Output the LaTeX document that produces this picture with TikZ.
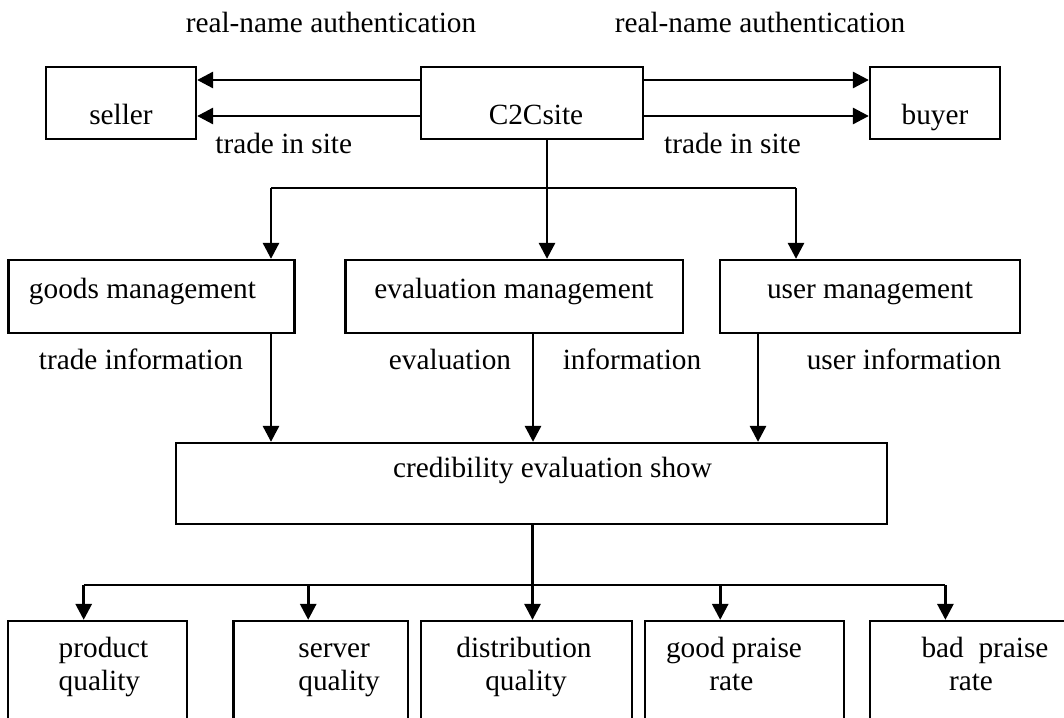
\documentclass[tikz,border=0pt]{standalone}
\usepackage{fontspec}
\setmainfont{Liberation Serif}
\usetikzlibrary{arrows.meta}
\begin{document}
\begin{tikzpicture}[x=1pt,y=-1pt,
  every node/.style={font=\fontsize{29.3}{33.5}\selectfont},
  box/.style={draw,line width=2.3pt,inner sep=0pt},
  txt/.style={inner sep=0pt,anchor=base},
  txtl/.style={inner sep=0pt,anchor=base west},
  plain/.style={line width=2.3pt},
  arr/.style={line width=2.9pt,-{Triangle[length=16pt,width=16pt]}}]
\useasboundingbox (0,0) rectangle (1064,717);
\clip (0,0) rectangle (1064,717);
% boxes
\node[box,minimum width=150,minimum height=72] (seller) at (121,103) {};
\node[box,minimum width=222,minimum height=72] (c2c) at (532,103) {};
\node[box,minimum width=130,minimum height=72] (buyer) at (935,103) {};
\node[box,minimum width=286,minimum height=73] (goods) at (151.35,296.5) {};
\node[box,minimum width=337.6,minimum height=73] (eval) at (514.2,296.5) {};
\node[box,minimum width=300,minimum height=73] (user) at (870.25,296.5) {};
\node[box,minimum width=711,minimum height=81] (cred) at (531.5,483.5) {};
\node[box,minimum width=178.7,minimum height=120] (prod) at (97.65,681) {};
\node[box,minimum width=174.2,minimum height=120] (serv) at (320.6,681) {};
\node[box,minimum width=211.2,minimum height=120] (dist) at (526.4,681) {};
\node[box,minimum width=198.8,minimum height=120] (good) at (744.3,681) {};
\node[box,minimum width=210.2,minimum height=120] (bad) at (974.9,681) {};
% texts
\node[txt] (lra) at (331,33) {real-name authentication};
\node[txt] (rra) at (760,33) {real-name authentication};
\node[txt] (tseller) at (121,124) {seller};
\node[txt] (tc2c) at (536,124) {C2Csite};
\node[txt] (tbuyer) at (935,124) {buyer};
\node[txt] (lts) at (283.7,153) {trade in site};
\node[txt] (rts) at (732.5,153) {trade in site};
\node[txt] (tgoods) at (142.5,298) {goods management};
\node[txt] (teval) at (514,298) {evaluation management};
\node[txt] (tuser) at (870,298) {user management};
\node[txt] (ti1) at (141,369) {trade information};
\node[txt] (ti2) at (450,369) {evaluation};
\node[txt] (ti3) at (632,369) {information};
\node[txt] (ti4) at (904,369) {user information};
\node[txt] (tcred) at (552.5,477) {credibility evaluation show};
\node[txtl] (tp1) at (58.5,657) {product};
\node[txtl] (tp2) at (58.5,690) {quality};
\node[txtl] (ts1) at (298.2,657) {server};
\node[txtl] (ts2) at (298.2,690) {quality};
\node[txt] (td1) at (524,657) {distribution};
\node[txt] (td2) at (526,690) {quality};
\node[txt] (tg1) at (734,657) {good praise};
\node[txt] (tg2) at (731.4,690) {rate};
\node[txt] (tb1) at (985,657) {bad\ \ praise};
\node[txt] (tb2) at (971,690) {rate};
% helper coordinates
\coordinate (ya) at (0,80);
\coordinate (yb) at (0,116);
\coordinate (hl) at (271,188);
\coordinate (hm) at (547,188);
\coordinate (hr) at (796,188);
\coordinate (ve) at (533,0);
\coordinate (vu) at (758,0);
\coordinate (bl) at (83.7,585);
\coordinate (bs) at (308.2,585);
\coordinate (bm) at (532.5,585);
\coordinate (bg) at (720.2,585);
\coordinate (br) at (945.4,585);
% top arrows
\draw[arr] (c2c.west |- ya) -- (seller.east |- ya);
\draw[arr] (c2c.west |- yb) -- (seller.east |- yb);
\draw[arr] (c2c.east |- ya) -- (buyer.west |- ya);
\draw[arr] (c2c.east |- yb) -- (buyer.west |- yb);
% c2c to management
\draw[plain] (hl) -- (hr);
\draw[arr] (c2c.south -| hm) -- (hm |- eval.north);
\draw[arr] (hl) -- (hl |- goods.north);
\draw[arr] (hr) -- (hr |- user.north);
% management to credibility
\draw[arr] (goods.south -| hl) -- (hl |- cred.north);
\draw[arr] (eval.south -| ve) -- (ve |- cred.north);
\draw[arr] (user.south -| vu) -- (vu |- cred.north);
% credibility to bottom
\draw[plain] (bl) -- (br);
\draw[arr] (cred.south -| bm) -- (bm |- dist.north);
\draw[arr] (bl) -- (bl |- prod.north);
\draw[arr] (bs) -- (bs |- serv.north);
\draw[arr] (bg) -- (bg |- good.north);
\draw[arr] (br) -- (br |- bad.north);
\end{tikzpicture}
\end{document}
